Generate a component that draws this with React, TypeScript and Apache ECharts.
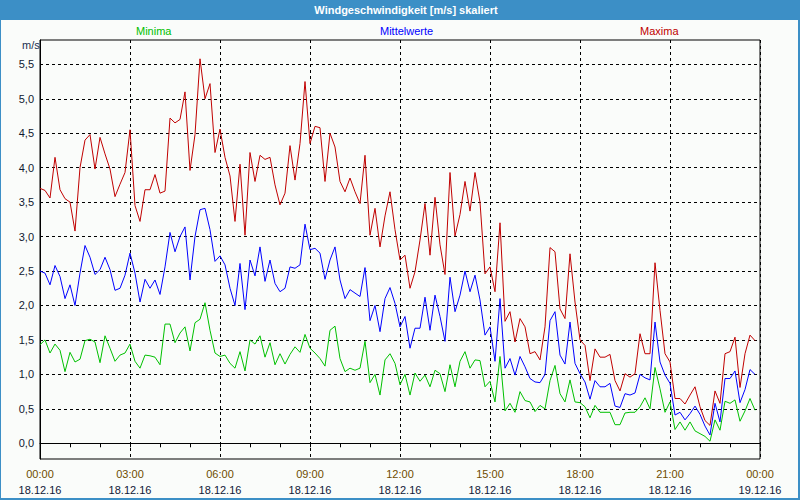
import { useEffect, useRef } from "react";
import * as echarts from "echarts";

// 10-minute values, 18.12.16 00:00 .. 23:50
const STEP_MIN = 10;

const maxima = [
  3.70, 3.67, 3.56, 4.15, 3.68, 3.55, 3.50, 3.08, 4.00, 4.40, 4.48, 3.98, 4.44, 4.20, 3.98, 3.58, 3.76, 3.93, 4.55, 3.45,
  3.22, 3.68, 3.68, 3.90, 3.63, 3.66, 4.72, 4.65, 4.70, 5.10, 3.96, 4.48, 5.58, 5.00, 5.22, 4.22, 4.56, 4.15, 3.88, 3.22,
  4.05, 3.02, 4.22, 3.80, 4.18, 4.12, 4.15, 3.75, 3.46, 3.63, 4.32, 3.82, 4.35, 5.25, 4.35, 4.60, 4.58, 3.80, 4.50, 4.30,
  3.80, 3.65, 3.85, 3.65, 3.48, 4.18, 3.02, 3.41, 2.85, 3.30, 3.65, 3.10, 2.66, 2.73, 2.25, 2.49, 2.95, 3.48, 2.73, 3.57,
  2.88, 2.45, 3.93, 3.01, 3.32, 3.80, 3.37, 3.93, 3.50, 2.46, 2.56, 2.20, 3.20, 1.77, 1.91, 1.47, 1.81, 1.69, 1.30, 1.33,
  1.21, 1.69, 2.84, 2.78, 1.95, 1.81, 2.75, 2.05, 1.50, 1.42, 0.91, 1.37, 1.25, 1.25, 1.29, 0.91, 0.76, 1.01, 0.96, 1.01,
  1.59, 1.30, 1.30, 2.62, 1.93, 1.30, 1.18, 0.65, 0.65, 0.57, 0.70, 0.82, 0.53, 0.33, 0.26, 0.76, 0.58, 1.30, 1.33, 1.54,
  0.81, 1.30, 1.57, 1.49,
];

const mittelwerte = [
  2.50, 2.47, 2.30, 2.58, 2.42, 2.10, 2.30, 2.00, 2.47, 2.87, 2.70, 2.45, 2.52, 2.70, 2.52, 2.22, 2.25, 2.44, 2.76, 2.47,
  2.05, 2.38, 2.25, 2.37, 2.16, 2.56, 3.06, 2.78, 3.00, 3.14, 2.37, 3.00, 3.39, 3.41, 3.10, 2.64, 2.72, 2.59, 2.25, 2.00,
  2.61, 1.94, 2.66, 2.43, 2.85, 2.35, 2.66, 2.32, 2.20, 2.25, 2.56, 2.54, 2.59, 3.18, 2.81, 2.83, 2.76, 2.38, 2.66, 2.85,
  2.37, 2.10, 2.23, 2.18, 2.13, 2.55, 1.78, 2.00, 1.62, 2.10, 2.26, 2.03, 1.69, 1.84, 1.38, 1.67, 1.67, 2.12, 1.64, 2.15,
  1.84, 1.48, 2.41, 1.91, 2.15, 2.50, 2.20, 2.44, 2.08, 1.57, 1.69, 1.19, 2.10, 1.09, 1.23, 0.99, 1.26, 1.11, 0.94, 0.89,
  0.88, 1.00, 1.78, 1.91, 1.28, 1.15, 1.76, 1.16, 1.01, 0.89, 0.64, 0.91, 0.82, 0.82, 0.87, 0.54, 0.52, 0.72, 0.70, 0.73,
  1.00, 0.95, 0.92, 1.76, 1.18, 0.99, 0.87, 0.41, 0.45, 0.34, 0.43, 0.54, 0.42, 0.25, 0.12, 0.58, 0.31, 0.94, 0.94, 1.05,
  0.59, 0.78, 1.07, 1.00,
];

const minima = [
  1.43, 1.50, 1.31, 1.44, 1.35, 1.04, 1.32, 1.18, 1.22, 1.49, 1.51, 1.47, 1.17, 1.56, 1.38, 1.19, 1.28, 1.31, 1.44, 1.19,
  1.09, 1.28, 1.27, 1.25, 1.14, 1.73, 1.73, 1.46, 1.60, 1.69, 1.34, 1.75, 1.80, 2.04, 1.64, 1.31, 1.26, 1.28, 1.16, 1.09,
  1.33, 1.05, 1.50, 1.44, 1.56, 1.25, 1.46, 1.14, 1.30, 1.15, 1.29, 1.40, 1.32, 1.58, 1.38, 1.31, 1.23, 1.12, 1.64, 1.70,
  1.23, 1.04, 1.09, 1.06, 1.09, 1.48, 0.88, 1.00, 0.70, 1.21, 1.30, 1.16, 0.85, 1.00, 0.70, 1.02, 0.90, 0.99, 0.82, 1.06,
  1.01, 0.75, 1.14, 0.82, 1.19, 1.33, 1.09, 1.21, 1.20, 0.82, 0.90, 0.60, 1.26, 0.47, 0.58, 0.45, 0.75, 0.62, 0.60, 0.46,
  0.55, 0.50, 0.91, 1.13, 0.72, 0.60, 0.92, 0.60, 0.59, 0.53, 0.37, 0.55, 0.45, 0.45, 0.45, 0.27, 0.27, 0.44, 0.45, 0.45,
  0.53, 0.66, 0.50, 1.10, 0.79, 0.45, 0.60, 0.20, 0.31, 0.19, 0.31, 0.18, 0.14, 0.10, 0.03, 0.34, 0.19, 0.61, 0.58, 0.63,
  0.32, 0.47, 0.65, 0.48,
];

const timeLabels = ["00:00", "03:00", "06:00", "09:00", "12:00", "15:00", "18:00", "21:00", "00:00"];
const dateLabels = ["18.12.16", "18.12.16", "18.12.16", "18.12.16", "18.12.16", "18.12.16", "18.12.16", "18.12.16", "19.12.16"];
const seriesNames = ["Minima", "Mittelwerte", "Maxima"];
const titleText = "Windgeschwindigkeit [m/s] skaliert";
const unitText = "m/s";

const FONT = "'Liberation Sans', Arial, sans-serif";
const C_MIN = "#00c000";
const C_MID = "#0000ff";
const C_MAX = "#c00000";

export default function App() {
  const ref = useRef<HTMLDivElement>(null);

  useEffect(() => {
    if (!ref.current) return;
    const chart = echarts.init(ref.current, null, { renderer: "svg" });

    const toPairs = (arr: number[]) => arr.map((v, i) => [i * STEP_MIN, v]);
    const dash = [3, 3];

    const legendBase = { top: 20, icon: "none", itemWidth: 0, itemHeight: 12, selectedMode: false };

    const option: any = {
      animation: false,
      backgroundColor: "#fafcfa",
      textStyle: { fontFamily: FONT },
      grid: [
        { left: 40, top: 40, width: 720, height: 419, show: true, borderColor: "#000", borderWidth: 1, backgroundColor: "transparent" },
        { left: 40, top: 64.3, width: 720, height: 379 },
      ],
      legend: [
        { ...legendBase, data: [seriesNames[0]], left: 126, textStyle: { color: C_MIN, fontSize: 11, fontFamily: FONT } },
        { ...legendBase, data: [seriesNames[1]], left: 370, textStyle: { color: C_MID, fontSize: 11, fontFamily: FONT } },
        { ...legendBase, data: [seriesNames[2]], left: 630, textStyle: { color: C_MAX, fontSize: 11, fontFamily: FONT } },
      ],
      xAxis: [
        {
          gridIndex: 0,
          type: "value",
          min: 0,
          max: 1440,
          interval: 180,
          axisLine: { show: true, lineStyle: { color: "#000", width: 1 } },
          axisTick: { show: true, length: 4, lineStyle: { color: "#000" } },
          minorTick: { show: true, splitNumber: 3, length: 4, lineStyle: { color: "#000" } },
          splitLine: { show: true, lineStyle: { color: "#000", type: dash, width: 1 } },
          axisLabel: {
            margin: 7,
            formatter: (v: number) => {
              const idx = Math.round(v / 180);
              return `{t|${timeLabels[idx]}}\n{d|${dateLabels[idx]}}`;
            },
            rich: {
              t: { color: "#6e4c00", fontSize: 11, fontFamily: FONT, lineHeight: 16 },
              d: { color: "#101838", fontSize: 11, fontFamily: FONT, lineHeight: 16 },
            },
          },
        },
        {
          gridIndex: 1,
          type: "value",
          min: 0,
          max: 1440,
          show: false,
          splitLine: { show: false },
        },
      ],
      yAxis: [
        {
          gridIndex: 0,
          type: "value",
          min: -0.228,
          max: 5.853,
          axisLine: { show: true, lineStyle: { color: "#000", width: 1 } },
          axisTick: { show: false },
          axisLabel: { show: false },
          splitLine: { show: false },
        },
        {
          gridIndex: 1,
          type: "value",
          min: 0,
          max: 5.5,
          interval: 0.5,
          axisLine: { show: false },
          axisTick: { show: false },
          splitLine: { show: true, lineStyle: { color: "#000", type: dash, width: 1 } },
          axisLabel: {
            margin: 6,
            color: "#101830",
            fontSize: 11,
            fontFamily: FONT,
            formatter: (v: number) => v.toFixed(1).replace(".", ","),
          },
        },
      ],
      graphic: [
        { type: "rect", left: 0, top: 0, shape: { width: 800, height: 20 }, style: { fill: "#3c8fc6" }, silent: true },
        { type: "rect", left: 0, top: 0, shape: { width: 1, height: 500 }, style: { fill: "#3c8fc6" }, silent: true },
        { type: "rect", left: 798, top: 0, shape: { width: 2, height: 500 }, style: { fill: "#3c8fc6" }, silent: true },
        { type: "rect", left: 0, top: 498, shape: { width: 800, height: 2 }, style: { fill: "#3c8fc6" }, silent: true },
        {
          type: "text",
          x: 406,
          y: 10,
          style: { text: titleText, fill: "#ffffff", font: `bold 11px ${FONT}`, textAlign: "center", textVerticalAlign: "middle" },
          silent: true,
        },
        {
          type: "text",
          x: 22,
          y: 45,
          style: { text: unitText, fill: "#203050", font: `11px ${FONT}`, textAlign: "left", textVerticalAlign: "middle" },
          silent: true,
        },
      ],
      series: [
        { name: seriesNames[0], type: "line", xAxisIndex: 0, yAxisIndex: 0, data: toPairs(minima), showSymbol: false, symbol: "none", lineStyle: { color: C_MIN, width: 1 }, itemStyle: { color: C_MIN } },
        { name: seriesNames[1], type: "line", xAxisIndex: 0, yAxisIndex: 0, data: toPairs(mittelwerte), showSymbol: false, symbol: "none", lineStyle: { color: C_MID, width: 1 }, itemStyle: { color: C_MID } },
        { name: seriesNames[2], type: "line", xAxisIndex: 0, yAxisIndex: 0, data: toPairs(maxima), showSymbol: false, symbol: "none", lineStyle: { color: C_MAX, width: 1 }, itemStyle: { color: C_MAX } },
      ],
    };

    chart.setOption(option);
    return () => chart.dispose();
  }, []);

  return <div ref={ref} style={{ position: "fixed", left: 0, top: 0, width: 800, height: 500 }} />;
}
